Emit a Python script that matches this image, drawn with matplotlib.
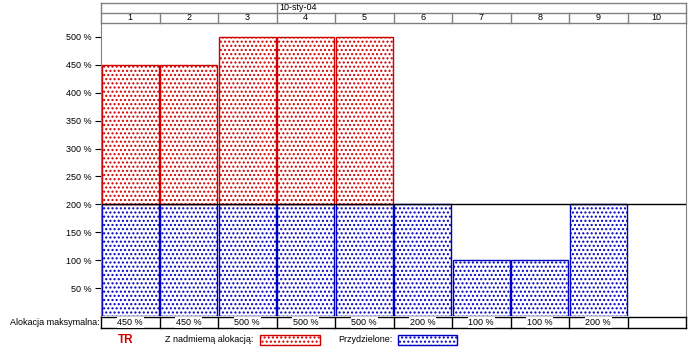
import numpy as np
import matplotlib.pyplot as plt
from matplotlib.patches import Rectangle

plt.rcParams['font.family'] = ['Liberation Sans', 'DejaVu Sans']
plt.rcParams['hatch.linewidth'] = 1.0

# data
periods = ['1', '2', '3', '4', '5', '6', '7', '8', '9', '10']
date_label = '10-sty-04'
max_alloc = [450, 450, 500, 500, 500, 200, 100, 100, 200, None]
capacity = 200
y_ticks = [50, 100, 150, 200, 250, 300, 350, 400, 450, 500]
resource = 'TR'

W, H = 689, 357
fig = plt.figure(figsize=(W / 100, H / 100), dpi=100)
x0, x1 = 101, 686
ytop, ybot = 23, 316
ax = fig.add_axes([x0 / W, 1 - ybot / H, (x1 - x0) / W, (ybot - ytop) / H])
n = len(periods)
ax.set_xlim(0, n)
ax.set_ylim(0, 525)

red = '#d00000'
blue = '#0000c0'
grey = '#808080'

# bars
for i, v in enumerate(max_alloc):
    if v is None:
        continue
    low = min(v, capacity)
    ax.bar(i + 0.5, low, width=0.97, bottom=0, facecolor='white',
           edgecolor=blue, hatch='....', linewidth=1.0)
    if v > capacity:
        ax.bar(i + 0.5, v - capacity, width=0.97, bottom=capacity,
               facecolor='white', edgecolor=red, hatch='....', linewidth=1.0)

ax.axhline(capacity, color='black', linewidth=1.0)

for s in ['top', 'bottom']:
    ax.spines[s].set_visible(False)
ax.spines['left'].set_color(grey)
ax.spines['right'].set_color(grey)
ax.set_xticks([])
ax.set_yticks(y_ticks)
ax.set_yticklabels([f'{t} %' for t in y_ticks], fontsize=6.5)
ax.tick_params(axis='y', length=4, width=0.8, pad=3, color='black')

def fx(px):
    return px / W

def fy(py):
    return 1 - py / H

col_px = [x0 + (x1 - x0) * i / n for i in range(n + 1)]

# header
fig.add_artist(plt.Line2D([fx(x0), fx(x1)], [fy(3), fy(3)], color=grey, lw=1))
fig.add_artist(plt.Line2D([fx(x0), fx(x1)], [fy(13), fy(13)], color=grey, lw=1))
fig.add_artist(plt.Line2D([fx(x0), fx(x1)], [fy(23), fy(23)], color=grey, lw=1))
fig.add_artist(plt.Line2D([fx(x0), fx(x0)], [fy(3), fy(23)], color=grey, lw=1))
fig.add_artist(plt.Line2D([fx(x1), fx(x1)], [fy(3), fy(23)], color=grey, lw=1))
fig.add_artist(plt.Line2D([fx(col_px[3]), fx(col_px[3])], [fy(3), fy(13)], color=grey, lw=1))
fig.text(fx(col_px[3] + 3), fy(8), date_label, fontsize=6.5, va='center', ha='left')
for i, p in enumerate(periods):
    if 0 < i:
        fig.add_artist(plt.Line2D([fx(col_px[i]), fx(col_px[i])], [fy(13), fy(23)],
                                  color=grey, lw=1))
    fig.text(fx((col_px[i] + col_px[i + 1]) / 2), fy(18), p, fontsize=6.5,
             ha='center', va='center')

# footer row
fig.add_artist(plt.Line2D([fx(x0), fx(x1)], [fy(317), fy(317)], color='black', lw=1))
fig.add_artist(plt.Line2D([fx(x0), fx(x1)], [fy(328), fy(328)], color='black', lw=1))
for i in range(n + 1):
    fig.add_artist(plt.Line2D([fx(col_px[i]), fx(col_px[i])], [fy(317), fy(328)],
                              color='black', lw=1))
fig.text(fx(x0 - 1), fy(322.5), 'Alokacja maksymalna:', fontsize=6.5,
         ha='right', va='center')
for i, v in enumerate(max_alloc):
    if v is None:
        continue
    fig.text(fx((col_px[i] + col_px[i + 1]) / 2), fy(322.5), f'{v} %', fontsize=6.5,
             ha='center', va='center',
             bbox=dict(facecolor='white', edgecolor='none', pad=0.5))

# legend
fig.text(fx(118), fy(340), resource, fontsize=8.5, fontweight='bold', color=red,
         ha='left', va='center')
fig.text(fx(165), fy(340), 'Z nadmiemą alokacją:', fontsize=6.5, ha='left', va='center')
fig.add_artist(Rectangle((fx(260), fy(345)), fx(60), 10 / H, facecolor='white',
                         edgecolor=red, hatch='....', lw=1, transform=fig.transFigure))
fig.text(fx(338), fy(340), 'Przydzielone:', fontsize=6.5, ha='left', va='center')
fig.add_artist(Rectangle((fx(398), fy(345)), fx(59), 10 / H, facecolor='white',
                         edgecolor=blue, hatch='....', lw=1, transform=fig.transFigure))

fig.savefig('out.png', dpi=100)
